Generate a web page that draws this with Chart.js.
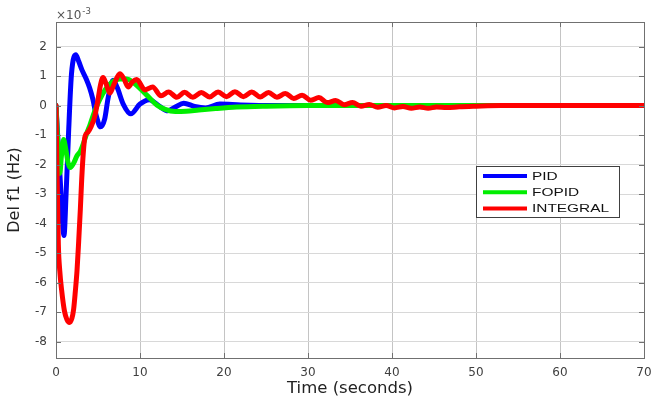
<!DOCTYPE html>
<html>
<head>
<meta charset="utf-8">
<title>Del f1</title>
<script src="https://cdn.jsdelivr.net/npm/chart.js@4.4.1/dist/chart.umd.min.js"></script>
<style>
  html, body { margin: 0; padding: 0; background: #fff; }
  #wrap { width: 652px; height: 400px; }
</style>
</head>
<body>
<div id="wrap"><canvas id="myChart" width="652" height="400"></canvas></div>
<script>
'use strict'

// all values in units of 1e-3 Hz
const seriesNames = ['PID', 'FOPID', 'INTEGRAL'];

const pidTime = [0, 0.5, 0.95, 1.2, 1.5, 1.8, 2.05, 2.35, 2.7, 3.1, 3.6, 4.0, 4.4, 4.8, 5.3, 5.8, 6.2, 6.8, 7.3, 8.0, 8.9,
  10.0, 11.1, 12.3, 13.3, 14.2, 15.2, 16.5, 17.8, 19.5, 22, 26, 30, 40, 50, 60, 70];
const pidValues = [0, -2.5, -4.4, -3.0, -0.9, 0.9, 1.55, 1.72, 1.5, 1.2, 0.9, 0.6, 0.2, -0.35, -0.72, -0.45, 0.25, 0.86, 0.6, 0.05, -0.28,
  0.05, 0.2, -0.02, -0.18, -0.05, 0.08, -0.03, -0.08, 0.05, 0.02, 0, 0, 0, 0, 0, 0];

const fopidTime = [0, 0.2, 0.45, 0.65, 0.9, 1.15, 1.45, 1.7, 2.1, 2.5, 2.9, 3.25, 3.65, 4.05, 4.6, 5.2, 5.9, 6.8, 7.6, 8.4, 9.2,
  10.0, 11.0, 12.0, 13.0, 14.2, 15.5, 17.0, 19.0, 21.5, 25, 30, 40, 50, 60, 70];
const fopidValues = [0, -1.2, -2.3, -1.7, -1.15, -1.45, -1.95, -2.1, -1.95, -1.7, -1.55, -1.3, -0.95, -0.65, -0.2, 0.2, 0.55, 0.82, 0.9, 0.9, 0.78,
  0.58, 0.3, 0.02, -0.13, -0.2, -0.19, -0.15, -0.1, -0.05, -0.02, 0, 0, 0, 0, 0];

const integralTime = [0, 0.1, 0.28, 0.45, 0.67, 1.0, 1.3, 1.6, 1.9, 2.1, 2.3, 2.5, 2.7, 2.9, 3.06, 3.25, 3.45, 3.8, 4.2, 4.6,
  5.0, 5.3, 5.6, 5.95, 6.4, 6.9, 7.6, 8.1, 8.6, 9.1, 9.6, 10.6, 11.5, 12.5, 13.4, 14.4, 15.3, 16.3, 17.3, 18.3, 19.3,
  20.3, 21.3, 22.3, 23.3, 24.3, 25.3, 26.3, 27.3, 28.3, 29.3, 30.3, 31.3, 32.3, 33.3, 34.3, 35.3, 36.3, 37.3, 38.3, 39.3,
  40.3, 41.3, 42.3, 43.3, 44.3, 45.3, 46.5, 48, 50, 53, 60, 70];
const integralValues = [0, -1.8, -4.7, -5.6, -6.25, -6.95, -7.25, -7.35, -7.2, -6.9, -6.3, -5.6, -4.6, -3.5, -2.5, -1.6, -1.05, -0.9, -0.7, -0.38,
  0.2, 0.7, 0.95, 0.75, 0.42, 0.72, 1.08, 0.9, 0.63, 0.8, 0.88, 0.53, 0.63, 0.33, 0.46, 0.28, 0.45, 0.28, 0.44, 0.29, 0.46,
  0.30, 0.47, 0.30, 0.46, 0.29, 0.44, 0.28, 0.41, 0.24, 0.35, 0.18, 0.27, 0.10, 0.17, 0.03, 0.10, -0.02, 0.04, -0.06, 0.00,
  -0.08, -0.03, -0.09, -0.05, -0.09, -0.05, -0.07, -0.04, -0.02, 0, 0, 0];

const xTicks = [0, 10, 20, 30, 40, 50, 60, 70];
const yTicks = [-8, -7, -6, -5, -4, -3, -2, -1, 0, 1, 2];

const seriesColors = ['#0000ff', '#00ee00', '#ff0000'];

function toPoints(times, values) {
  let pts = [];
  for (let i = 0; i < times.length; i++) {
    pts.push({ x: times[i], y: values[i] });
  }
  return pts;
}

// axes box with inward ticks, plus the x10^-3 exponent
const boxPlugin = {
  id: 'boxPlugin',
  afterDraw(chart) {
    const ctx = chart.ctx;
    const area = chart.chartArea;
    const xs = chart.scales.x;
    const ys = chart.scales.y;
    ctx.save();
    ctx.strokeStyle = '#707070';
    ctx.lineWidth = 1;
    ctx.beginPath();
    xTicks.forEach(function (t) {
      const px = Math.round(xs.getPixelForValue(t)) + 0.5;
      ctx.moveTo(px, area.bottom);
      ctx.lineTo(px, area.bottom - 5);
      ctx.moveTo(px, area.top);
      ctx.lineTo(px, area.top + 5);
    });
    yTicks.forEach(function (v) {
      const py = Math.round(ys.getPixelForValue(v)) + 0.5;
      ctx.moveTo(area.left, py);
      ctx.lineTo(area.left + 5, py);
      ctx.moveTo(area.right, py);
      ctx.lineTo(area.right - 5, py);
    });
    ctx.stroke();
    ctx.strokeRect(Math.round(area.left) + 0.5, Math.round(area.top) + 0.5,
      Math.round(area.right - area.left), Math.round(area.bottom - area.top));

    ctx.fillStyle = '#555555';
    ctx.textBaseline = 'alphabetic';
    ctx.textAlign = 'left';
    ctx.font = '12px "DejaVu Sans"';
    ctx.fillText('\u00d710', area.left, area.top - 3);
    const w = ctx.measureText('\u00d710').width;
    ctx.font = '8.5px "DejaVu Sans"';
    ctx.fillText('-3', area.left + w + 1, area.top - 8);
    ctx.restore();
  }
};

// legend box inside the plot, like the matlab one
const legendPlugin = {
  id: 'boxLegend',
  afterDraw(chart) {
    const ctx = chart.ctx;
    const area = chart.chartArea;
    const left = area.right - 168;
    const top = area.top + 144;
    const width = 143;
    const height = 51;
    ctx.save();
    ctx.fillStyle = '#ffffff';
    ctx.fillRect(left, top, width, height);
    ctx.strokeStyle = '#404040';
    ctx.lineWidth = 1;
    ctx.strokeRect(left + 0.5, top + 0.5, width, height);
    chart.data.datasets.forEach(function (ds, i) {
      const y = top + 10 + i * 16.3;
      ctx.strokeStyle = ds.borderColor;
      ctx.lineWidth = 4;
      ctx.beginPath();
      ctx.moveTo(left + 7, y);
      ctx.lineTo(left + 51, y);
      ctx.stroke();
      ctx.save();
      ctx.translate(left + 56, y + 0.5);
      ctx.scale(1.4, 1);
      ctx.fillStyle = '#111111';
      ctx.font = '11px "Liberation Sans"';
      ctx.textBaseline = 'middle';
      ctx.fillText(ds.label, 0, 0);
      ctx.restore();
    });
    ctx.restore();
  }
};

let ctx = document.getElementById('myChart').getContext('2d');

// eslint-disable-next-line no-unused-vars
let chart = new Chart(ctx, {
  type: 'line',
  data: {
    datasets: [{
      label: seriesNames[0],
      data: toPoints(pidTime, pidValues),
      borderColor: seriesColors[0],
      order: 3
    },
    {
      label: seriesNames[1],
      data: toPoints(fopidTime, fopidValues),
      borderColor: seriesColors[1],
      order: 2
    },
    {
      label: seriesNames[2],
      data: toPoints(integralTime, integralValues),
      borderColor: seriesColors[2],
      order: 1
    }]
  },
  options: {
    responsive: false,
    animation: false,
    devicePixelRatio: 1,
    layout: { padding: { top: 22, right: 0, left: 0, bottom: 0 } },
    elements: {
      point: { radius: 0 },
      line: { borderWidth: 5, cubicInterpolationMode: 'monotone', borderCapStyle: 'round', borderJoinStyle: 'round', fill: false }
    },
    plugins: {
      legend: { display: false },
      tooltip: { enabled: false }
    },
    scales: {
      x: {
        type: 'linear',
        min: 0,
        max: 70,
        afterBuildTicks: function (scale) { scale.ticks = xTicks.map(function (v) { return { value: v }; }); },
        afterFit: function (scale) {
          scale.height = 42;
          scale.paddingLeft = 0;
          scale.paddingRight = 8;
        },
        grid: { color: '#c4c4c4', drawTicks: false },
        border: { display: false },
        ticks: { padding: 8, color: '#404040', font: { family: 'DejaVu Sans', size: 12 } },
        title: { display: true, text: 'Time (seconds)', color: '#222222', font: { family: 'DejaVu Sans', size: 16.5 }, padding: { top: 0, bottom: 1 } }
      },
      y: {
        type: 'linear',
        min: -8.55,
        max: 2.83,
        afterBuildTicks: function (scale) { scale.ticks = yTicks.map(function (v) { return { value: v }; }); },
        afterFit: function (scale) { scale.width = 56; },
        grid: { color: '#d8d8d8', drawTicks: false },
        border: { display: false },
        ticks: { padding: 9, color: '#404040', font: { family: 'DejaVu Sans', size: 12 } },
        title: { display: true, text: 'Del f1 (Hz)', color: '#222222', font: { family: 'DejaVu Sans', size: 16 }, padding: { top: 5, bottom: 0 } }
      }
    }
  },
  plugins: [boxPlugin, legendPlugin]
});
</script>
</body>
</html>
